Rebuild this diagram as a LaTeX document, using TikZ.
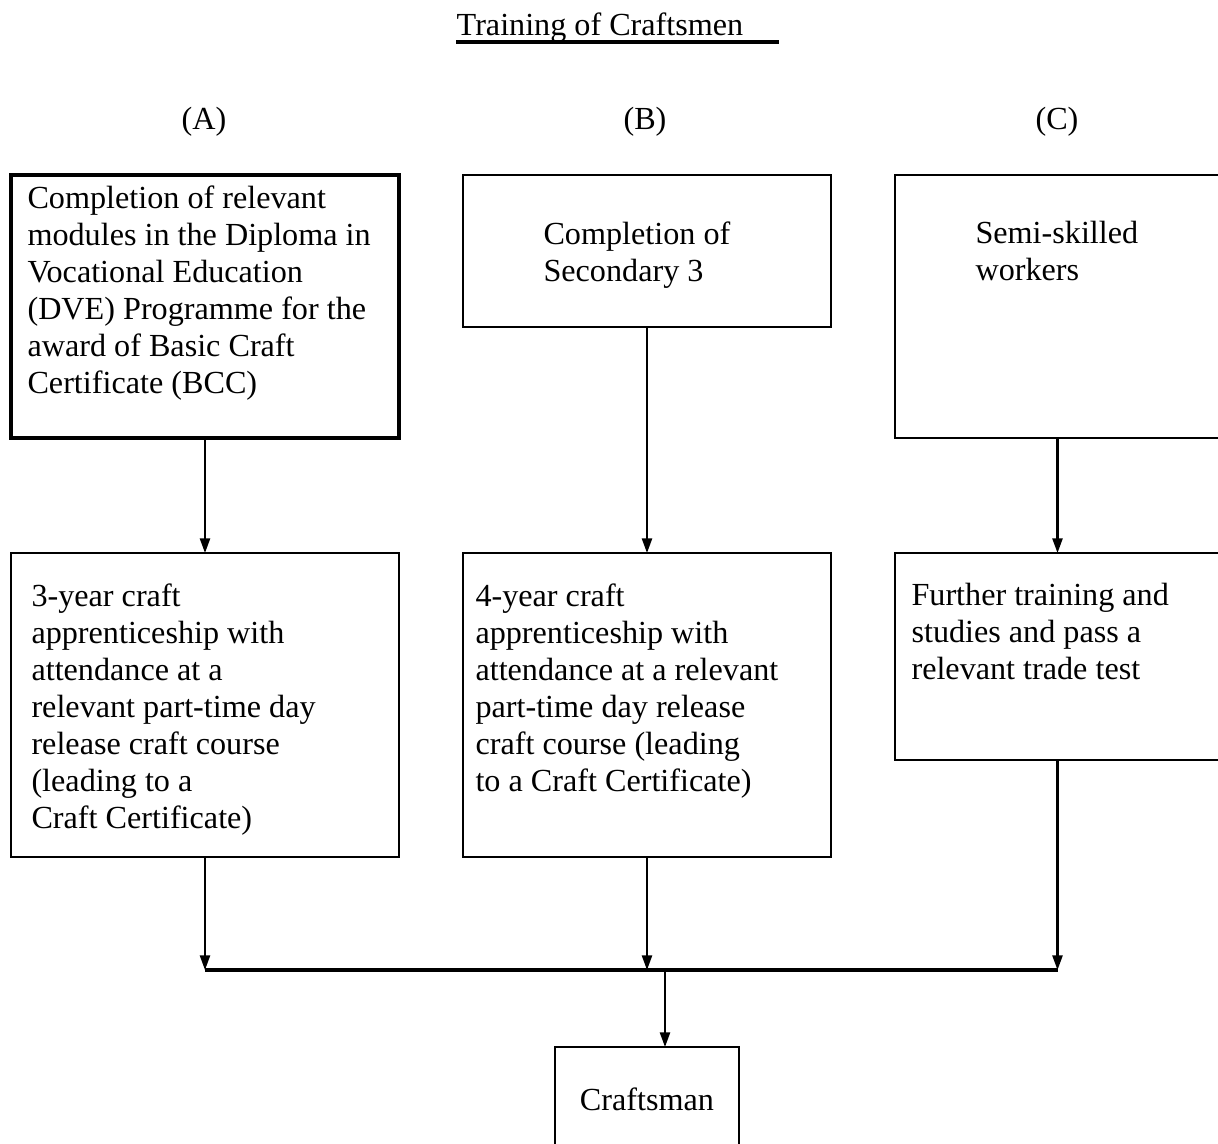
\documentclass[tikz,border=0pt]{standalone}
\usepackage{fontspec}
\setmainfont{Liberation Serif}
\usetikzlibrary{positioning, arrows.meta}
\newlength\px
\setlength\px{0.373pt}

\begin{document}
\begin{tikzpicture}[
          x=1\px, y=-1\px,
          box/.style={rectangle, draw, line width=0.9pt, outer sep=0pt,
                      anchor=north west},
          txt/.style={anchor=north west, inner sep=0pt, align=left,
                      font=\fontsize{12pt}{13.8pt}\selectfont},
          lbl/.style={inner sep=0pt, font=\fontsize{12pt}{13.8pt}\selectfont},
          arrow/.style={-{Triangle[length=5.5pt, width=3.8pt]}, line width=0.8pt},
        ]
        \useasboundingbox (0,0) rectangle (1218,1144);

        % title and column labels
        \node[lbl, anchor=base] (title) at (600,35) {Training of Craftsmen};
        \draw[line width=1.2pt] ([yshift=-7\px]title.base west) -- ++(323,0);
        \node[lbl] (colA) at (204,122) {(A)};
        \node[lbl] (colB) at (645,122) {(B)};
        \node[lbl] (colC) at (1057,122) {(C)};

        % entry boxes
        \node[box, line width=1.3pt, minimum width=388\px, minimum height=263\px] (a1) at (11,175) {};
        \node[box, minimum width=368\px, minimum height=152\px] (b1) at (463,175) {};
        \node[box, minimum width=325\px, minimum height=263\px] (c1) at (895,175) {};
        \node[txt] (a1t) at ([shift={(16,10)}]a1.north west)
              {Completion of relevant\\ modules in the Diploma in\\ Vocational Education\\
               (DVE) Programme for the\\ award of Basic Craft\\ Certificate (BCC)};
        \node[txt] (b1t) at ([shift={(80,46)}]b1.north west) {Completion of\\ Secondary 3};
        \node[txt] (c1t) at ([shift={(80,46)}]c1.north west) {Semi-skilled\\ workers};

        % training boxes
        \node[box, minimum width=388\px, minimum height=304\px] (a2) at (11,553) {};
        \node[box, minimum width=368\px, minimum height=304\px] (b2) at (463,553) {};
        \node[box, minimum width=325\px, minimum height=207\px] (c2) at (895,553) {};
        \node[txt] (a2t) at ([shift={(20,30)}]a2.north west)
              {3-year craft\\ apprenticeship with\\ attendance at a\\ relevant part-time day\\
               release craft course\\ (leading to a\\ Craft Certificate)};
        \node[txt] (b2t) at ([shift={(12,30)}]b2.north west)
              {4-year craft\\ apprenticeship with\\ attendance at a relevant\\
               part-time day release\\ craft course (leading\\ to a Craft Certificate)};
        \node[txt] (c2t) at ([shift={(16,30)}]c2.north west)
              {Further training and\\ studies and pass a\\ relevant trade test};

        \node[rectangle, draw, line width=0.9pt, outer sep=0pt, anchor=north,
              minimum width=184\px, minimum height=104\px,
              font=\fontsize{12pt}{13.8pt}\selectfont] (craft) at (647,1047) {Craftsman};

        \draw[arrow] (a1) -- (a2);
        \draw[arrow] (b1) -- (b2);
        \draw[arrow] (c1) -- (c2);

        \coordinate (bus) at (0,970);
        \coordinate (merge) at (665,970);
        \draw[arrow] (a2.south) -- (a2.south |- bus);
        \draw[arrow] (b2.south) -- (b2.south |- bus);
        \draw[arrow] (c2.south) -- (c2.south |- bus);
        \draw[line width=1.4pt] (a2.south |- bus) -- (c2.south |- bus);
        \draw[arrow] (merge) -- (merge |- craft.north);
      \end{tikzpicture}
\end{document}
